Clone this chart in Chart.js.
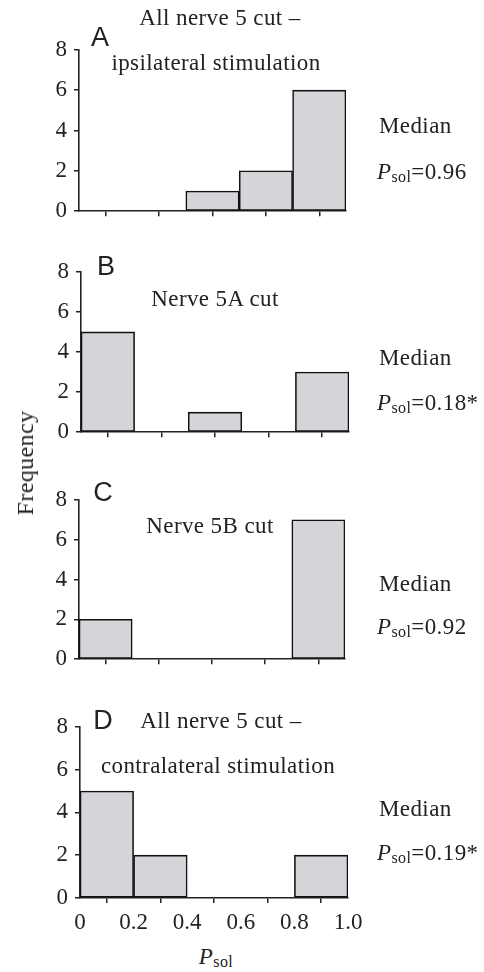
<!DOCTYPE html>
<html>
<head>
<meta charset="utf-8">
<script src="https://cdn.jsdelivr.net/npm/chart.js@4.4.1/dist/chart.umd.min.js"></script>
<style>
  body { margin: 0; background: #fff; width: 484px; height: 972px; position: relative; overflow: hidden;
         font-family: "Liberation Serif", "DejaVu Serif", serif; color: #222; }
  .panel { position: absolute; left: 0; width: 484px; }
  .txt { position: absolute; white-space: nowrap; font-size: 23px; letter-spacing: 0.4px; line-height: 1; transform: translate(-50%, -50%); }
  .left { transform: translate(0, -50%); }
  .letter { font-family: "Liberation Sans", Arial, sans-serif; font-size: 27px; letter-spacing: 0; }
  sub { font-size: 16px; vertical-align: -3px; line-height: 0; }
  i { font-style: italic; }
</style>
</head>
<body>

<div class="panel" id="pA"><canvas id="chartA"></canvas></div>
<div class="panel" id="pB"><canvas id="chartB"></canvas></div>
<div class="panel" id="pC"><canvas id="chartC"></canvas></div>
<div class="panel" id="pD"><canvas id="chartD"></canvas></div>

<!-- panel texts -->
<div class="txt letter" style="left:100px;top:37px">A</div>
<div class="txt" style="left:220px;top:17px">All nerve 5 cut –</div>
<div class="txt" style="left:216px;top:62px">ipsilateral stimulation</div>
<div class="txt left" style="left:379px;top:125px">Median</div>
<div class="txt left" style="left:377px;top:171px"><i>P</i><sub>sol</sub>=0.96</div>

<div class="txt letter" style="left:106px;top:266px">B</div>
<div class="txt" style="left:215px;top:298px">Nerve 5A cut</div>
<div class="txt left" style="left:379px;top:357px">Median</div>
<div class="txt left" style="left:377px;top:402px"><i>P</i><sub>sol</sub>=0.18*</div>

<div class="txt letter" style="left:103px;top:492px">C</div>
<div class="txt" style="left:210px;top:525px">Nerve 5B cut</div>
<div class="txt left" style="left:379px;top:583px">Median</div>
<div class="txt left" style="left:377px;top:626px"><i>P</i><sub>sol</sub>=0.92</div>

<div class="txt letter" style="left:103px;top:720px">D</div>
<div class="txt" style="left:221px;top:720px">All nerve 5 cut –</div>
<div class="txt" style="left:218px;top:765px">contralateral stimulation</div>
<div class="txt left" style="left:379px;top:808px">Median</div>
<div class="txt left" style="left:377px;top:852px"><i>P</i><sub>sol</sub>=0.19*</div>

<div class="txt" style="left:25px;top:463px;font-size:24px;transform:translate(-50%,-50%) rotate(-90deg)">Frequency</div>
<div class="txt" style="left:216px;top:956px"><i>P</i><sub>sol</sub></div>

<script>
// bin centres of the P_sol histogram (bins 0.2 wide)
const binCenters = [0.1, 0.3, 0.5, 0.7, 0.9];
const xTickLabels = ['0', '0.2', '0.4', '0.6', '0.8', '1.0'];
const yTickValues = [0, 2, 4, 6, 8];

const countsA = [0, 0, 1, 2, 6];
const countsB = [5, 0, 1, 0, 3];
const countsC = [2, 0, 0, 0, 7];
const countsD = [5, 2, 0, 0, 2];

const ink = '#222';
const barFill = '#d4d5d8';

// chart-area box of each panel in page pixels
const panels = [
  { id: 'A', counts: countsA, left: 79, right: 346, top: 43, bottom: 222, labels: false },
  { id: 'B', counts: countsB, left: 81, right: 349, top: 265, bottom: 443, labels: false },
  { id: 'C', counts: countsC, left: 79, right: 345, top: 493, bottom: 670, labels: false },
  { id: 'D', counts: countsD, left: 80, right: 348, top: 720, bottom: 898, labels: true }
];

const padTop = 14;

panels.forEach(p => {
  const xHeight = p.labels ? 40 : 10;
  const wrap = document.getElementById('p' + p.id);
  wrap.style.top = (p.top - padTop) + 'px';
  wrap.style.height = (p.bottom - p.top + padTop + xHeight) + 'px';

  new Chart(document.getElementById('chart' + p.id), {
    type: 'bar',
    data: {
      datasets: [{
        data: binCenters.map((x, i) => ({ x: x, y: p.counts[i] })),
        backgroundColor: barFill,
        borderColor: '#111',
        borderWidth: 1.6,
        borderSkipped: false,
        barPercentage: 1,
        categoryPercentage: 1
      }]
    },
    options: {
      responsive: true,
      maintainAspectRatio: false,
      animation: false,
      layout: { padding: { left: 0, right: 484 - p.right, top: padTop, bottom: 0 } },
      plugins: { legend: { display: false }, tooltip: { enabled: false } },
      scales: {
        x: {
          type: 'linear',
          min: 0,
          max: 1,
          offset: false,
          afterFit: s => { s.height = xHeight; },
          border: { display: true, color: ink, width: 1.6 },
          grid: { drawOnChartArea: false, drawTicks: true, tickLength: 5, color: ink, lineWidth: 1.5 },
          ticks: {
            display: p.labels,
            stepSize: 0.2,
            padding: 6,
            maxRotation: 0,
            color: ink,
            font: { family: 'Liberation Serif', size: 23 },
            callback: (v, i) => xTickLabels[i]
          }
        },
        y: {
          min: 0,
          max: 8,
          afterFit: s => { s.width = p.left; },
          afterBuildTicks: s => { s.ticks = yTickValues.map(v => ({ value: v })); },
          border: { display: true, color: ink, width: 1.6 },
          grid: { drawOnChartArea: false, drawTicks: true, tickLength: 5, color: ink, lineWidth: 1.5 },
          ticks: {
            padding: 7,
            color: ink,
            font: { family: 'Liberation Serif', size: 23 }
          }
        }
      }
    }
  });
});
</script>
</body>
</html>
